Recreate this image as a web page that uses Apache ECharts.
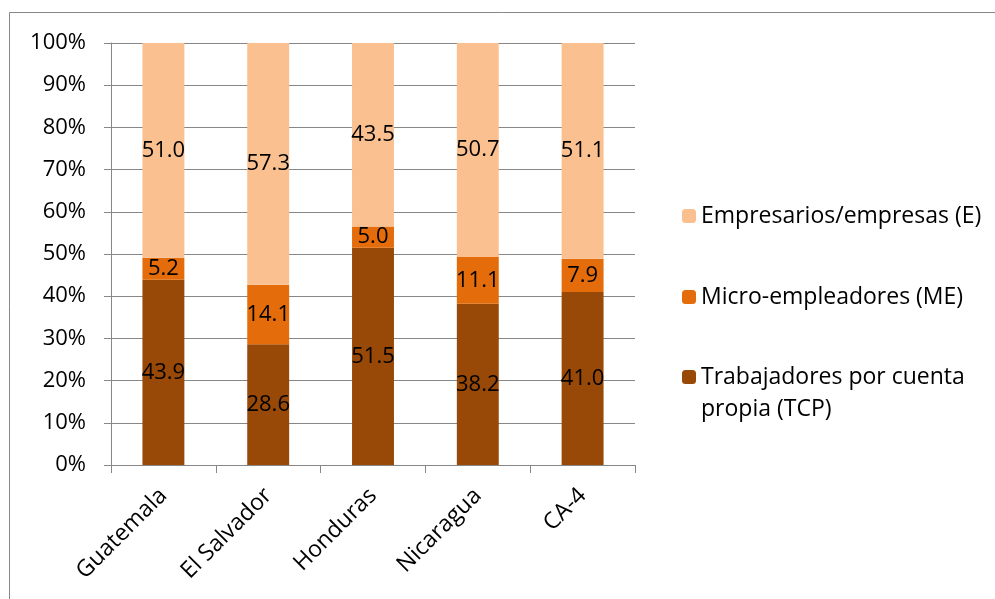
<!DOCTYPE html>
<html>
<head>
<meta charset="utf-8">
<script src="https://cdn.jsdelivr.net/npm/echarts@6/dist/echarts.min.js"></script>
<style>
  html, body { margin: 0; padding: 0; background: #fff; }
  #main { width: 995px; height: 599px; }
</style>
</head>
<body>
<div id="main"></div>
<script>
// paises y valores (%)
var paises = ['Guatemala', 'El Salvador', 'Honduras', 'Nicaragua', 'CA-4'];
var tcp = [43.9, 28.6, 51.5, 38.2, 41.0];
var me = [5.2, 14.1, 5.0, 11.1, 7.9];
var emp = [51.0, 57.3, 43.5, 50.7, 51.1];
var yTicks = [0, 10, 20, 30, 40, 50, 60, 70, 80, 90, 100];

var nomTCP = 'Trabajadores por cuenta propia (TCP)';
var nomME = 'Micro-empleadores (ME)';
var nomE = 'Empresarios/empresas (E)';

var fuente = 'Open Sans';
var tamNum = 22;
var tamTxt = 23;
var gris = '#878787';

var chart = echarts.init(document.getElementById('main'));

function serie(nombre, datos, color) {
  return {
    name: nombre,
    type: 'bar',
    stack: 'total',
    barWidth: '40%',
    data: datos,
    itemStyle: { color: color },
    label: {
      show: true,
      position: 'inside',
      color: '#000',
      fontFamily: fuente,
      fontSize: tamNum,
      formatter: function (p) { return p.value.toFixed(1); }
    }
  };
}

function leyenda(nombre, top, extra) {
  return Object.assign({
    data: [nombre],
    left: 677,
    top: top,
    orient: 'vertical',
    itemWidth: 14,
    itemHeight: 14,
    itemGap: 0,
    selectedMode: false,
    textStyle: { fontFamily: fuente, fontSize: tamTxt, color: '#000', lineHeight: 32 }
  }, extra || {});
}

var option = {
  backgroundColor: '#fff',
  animation: false,
  graphic: [{
    type: 'rect',
    shape: { x: 9.5, y: 12.5, width: 1000, height: 600 },
    style: { fill: 'none', stroke: gris, lineWidth: 1 },
    silent: true
  }],
  grid: { left: 111, right: 360, top: 43, bottom: 134 },
  legend: [
    leyenda(nomE, 195),
    leyenda(nomME, 276),
    // linea vacia arriba para que el cuadro quede junto a la primera linea
    leyenda(nomTCP, 324, {
      formatter: function () { return ' \nTrabajadores por cuenta\npropia (TCP)'; }
    })
  ],
  xAxis: {
    type: 'category',
    data: paises,
    axisLine: { lineStyle: { color: gris, width: 1 } },
    axisTick: { show: true, length: 8, lineStyle: { color: gris } },
    axisLabel: {
      rotate: 45,
      margin: 27,
      color: '#000',
      fontFamily: fuente,
      fontSize: tamTxt
    }
  },
  yAxis: {
    type: 'value',
    min: yTicks[0],
    max: yTicks[yTicks.length - 1],
    interval: 10,
    axisLine: { show: true, lineStyle: { color: gris } },
    axisTick: { show: true, length: 7, lineStyle: { color: gris } },
    splitLine: { lineStyle: { color: gris, width: 1 } },
    axisLabel: {
      margin: 25,
      color: '#000',
      fontFamily: fuente,
      fontSize: tamNum,
      formatter: '{value}%'
    }
  },
  series: [
    serie(nomTCP, tcp, '#984807'),
    serie(nomME, me, '#E46C0A'),
    serie(nomE, emp, '#FAC090')
  ]
};

chart.setOption(option);
</script>
</body>
</html>
